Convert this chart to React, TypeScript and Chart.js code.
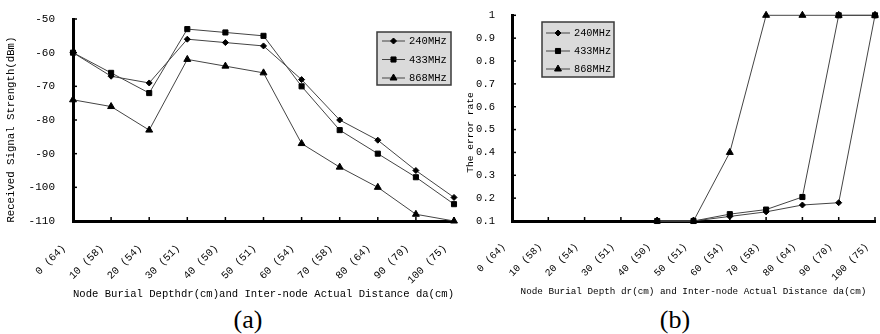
import React, { useEffect, useRef } from 'react';
import { Chart, registerables } from 'chart.js';
import { drawPoint } from 'chart.js/helpers';

Chart.register(...registerables);

const categories = ['0 (64)', '10 (58)', '20 (54)', '30 (51)', '40 (50)', '50 (51)', '60 (54)', '70 (58)', '80 (64)', '90 (70)', '100 (75)'];
const seriesNames = ['240MHz', '433MHz', '868MHz'];
const pointStyles = ['rectRot', 'rect', 'triangle'];
const pointRadii = [3, 3.6, 4];

const rssi240 = [-60, -67, -69, -56, -57, -58, -68, -80, -86, -95, -103];
const rssi433 = [-60, -66, -72, -53, -54, -55, -70, -83, -90, -97, -105];
const rssi868 = [-74, -76, -83, -62, -64, -66, -87, -94, -100, -108, -110];

const err240 = [null, null, null, null, 0.1, 0.1, 0.12, 0.14, 0.17, 0.18, 1];
const err433 = [null, null, null, null, 0.1, 0.1, 0.13, 0.15, 0.205, 1, 1];
const err868 = [null, null, null, null, 0.1, 0.1, 0.4, 1, 1, 1, 1];

const titleXA = 'Node Burial Depthdr(cm)and Inter-node Actual Distance da(cm)';
const titleYA = 'Received Signal Strength(dBm)   ';
const titleXB = 'Node Burial Depth dr(cm) and Inter-node Actual Distance da(cm)';
const titleYB = 'The error rate     ';

const MONO = '"Liberation Mono", "DejaVu Sans Mono", monospace';

const decorPlugin = {
  id: 'decor',
  afterDraw(chart: any, _args: any, opts: any) {
    const ctx = chart.ctx;
    const xs = chart.scales.x;
    const ys = chart.scales.y;
    const area = chart.chartArea;
    ctx.save();
    ctx.strokeStyle = '#000';
    ctx.lineWidth = 1.5;
    xs.ticks.forEach((_t: any, i: number) => {
      const px = xs.getPixelForTick(i);
      ctx.beginPath();
      ctx.moveTo(px, area.bottom);
      ctx.lineTo(px, area.bottom - 4);
      ctx.stroke();
    });
    ys.ticks.forEach((_t: any, i: number) => {
      const py = ys.getPixelForTick(i);
      ctx.beginPath();
      ctx.moveTo(area.left, py);
      ctx.lineTo(area.left + 4, py);
      ctx.stroke();
    });
    const L = opts.legend;
    if (L) {
      ctx.fillStyle = '#dadada';
      ctx.fillRect(L.x, L.y, L.w, L.h);
      ctx.strokeStyle = '#3a3a3a';
      ctx.lineWidth = 1.5;
      ctx.strokeRect(L.x, L.y, L.w, L.h);
      chart.data.datasets.forEach((ds: any, i: number) => {
        const y = L.y + L.rowTop + i * L.rowGap;
        ctx.strokeStyle = ds.borderColor;
        ctx.lineWidth = 1;
        ctx.beginPath();
        ctx.moveTo(L.x + L.lineStart, y);
        ctx.lineTo(L.x + L.lineEnd, y);
        ctx.stroke();
        ctx.fillStyle = '#000';
        ctx.strokeStyle = '#000';
        drawPoint(ctx, { pointStyle: ds.pointStyle, radius: ds.pointRadius, rotation: 0, borderWidth: 1 } as any, L.x + (L.lineStart + L.lineEnd) / 2, y);
        ctx.fillStyle = '#000';
        ctx.font = `${L.fontSize}px ${MONO}`;
        ctx.textBaseline = 'middle';
        ctx.textAlign = 'left';
        ctx.fillText(ds.label, L.x + L.textX, y + 0.5);
      });
    }
    ctx.restore();
  },
};

function makeDatasets(values: (number | null)[][]) {
  return values.map((v, i) => ({
    label: seriesNames[i],
    data: v,
    borderColor: '#444',
    borderWidth: 1,
    pointStyle: pointStyles[i],
    pointRadius: pointRadii[i],
    pointBackgroundColor: '#000',
    pointBorderColor: '#000',
    pointBorderWidth: 1,
    tension: 0,
    clip: false,
    spanGaps: false,
  }));
}

function buildConfig(p: any) {
  return {
    type: 'line',
    data: { labels: categories, datasets: makeDatasets(p.values) },
    plugins: [decorPlugin],
    options: {
      animation: false,
      responsive: false,
      maintainAspectRatio: false,
      layout: { padding: p.padding },
      plugins: {
        legend: { display: false },
        tooltip: { enabled: false },
        decor: { legend: p.legend },
      },
      scales: {
        x: {
          type: 'category',
          offset: false,
          grid: { display: false },
          border: { display: true, width: 3, color: '#000' },
          ticks: {
            autoSkip: false,
            maxRotation: 45,
            minRotation: 45,
            padding: p.xTickPad,
            labelOffset: p.xLabelOffset,
            color: '#000',
            font: { family: MONO, size: p.xTickFont },
          },
          title: {
            display: true,
            text: p.titleX,
            color: '#000',
            font: { family: MONO, size: p.xTitleFont },
            padding: { top: 0, bottom: p.xTitleBottom },
          },
          afterFit: (s: any) => {
            s.height = p.xAxisHeight;
            s.paddingLeft = 0;
            s.paddingRight = 0;
          },
        },
        y: {
          min: p.yMin,
          max: p.yMax,
          grid: { display: false },
          border: { display: true, width: 3, color: '#000' },
          ticks: {
            stepSize: p.yStep,
            padding: p.yTickPad,
            color: '#000',
            font: { family: MONO, size: p.yTickFont },
            callback: p.yFormat,
          },
          title: {
            display: true,
            text: p.titleY,
            color: '#000',
            font: { family: MONO, size: p.yTitleFont },
            padding: { top: p.yTitlePad, bottom: 0 },
          },
          afterFit: (s: any) => {
            s.width = p.yAxisWidth;
          },
        },
      },
    },
  };
}

function ChartCanvas(props: { width: number; height: number; left: number; cfg: any }) {
  const ref = useRef<HTMLCanvasElement | null>(null);
  useEffect(() => {
    if (!ref.current) return;
    const chart = new Chart(ref.current, props.cfg);
    return () => chart.destroy();
  }, []);
  return (
    <canvas
      ref={ref}
      width={props.width}
      height={props.height}
      style={{ position: 'absolute', left: props.left, top: 0, width: props.width, height: props.height }}
    />
  );
}

const cfgA = buildConfig({
  values: [rssi240, rssi433, rssi868],
  padding: { top: 19, right: 6, left: 0, bottom: 0 },
  legend: { x: 377, y: 32, w: 74, h: 53, rowTop: 9, rowGap: 18.5, lineStart: 5, lineEnd: 28, textX: 32, fontSize: 10.5 },
  xTickPad: 13,
  xLabelOffset: -9,
  xTickFont: 10.5,
  xTitleFont: 10.7,
  xTitleBottom: 4,
  xAxisHeight: 84,
  titleX: titleXA,
  titleY: titleYA,
  yMin: -110,
  yMax: -50,
  yStep: 10,
  yTickPad: 10,
  yTickFont: 11,
  yTitleFont: 10.7,
  yTitlePad: 5,
  yAxisWidth: 73,
  yFormat: (v: any) => String(v),
});

const cfgB = buildConfig({
  values: [err240, err433, err868],
  padding: { top: 14, right: 0, left: 0, bottom: 0 },
  legend: { x: 82, y: 22, w: 72, h: 55, rowTop: 11, rowGap: 18, lineStart: 4, lineEnd: 28, textX: 32, fontSize: 10.3 },
  xTickPad: 12,
  xLabelOffset: -8,
  xTickFont: 10,
  xTitleFont: 9.3,
  xTitleBottom: 8,
  xAxisHeight: 84,
  titleX: titleXB,
  titleY: titleYB,
  yMin: 0.1,
  yMax: 1,
  yStep: 0.1,
  yTickPad: 9,
  yTickFont: 10.5,
  yTitleFont: 9.6,
  yTitlePad: 5,
  yAxisWidth: 52,
  yFormat: (v: any) => String(Math.round(v * 10) / 10),
});

export default function App() {
  return (
    <div style={{ position: 'fixed', left: 0, top: 0, width: 880, height: 334, background: '#fff', overflow: 'hidden' }}>
      <ChartCanvas width={460} height={305} left={0} cfg={cfgA} />
      <ChartCanvas width={420} height={305} left={460} cfg={cfgB} />
      <div style={{ position: 'absolute', left: 248, top: 305, transform: 'translateX(-50%)', fontFamily: '"Liberation Serif", "Times New Roman", serif', fontSize: 26, lineHeight: '30px', color: '#000' }}>(a)</div>
      <div style={{ position: 'absolute', left: 675, top: 305, transform: 'translateX(-50%)', fontFamily: '"Liberation Serif", "Times New Roman", serif', fontSize: 26, lineHeight: '30px', color: '#000' }}>(b)</div>
    </div>
  );
}
